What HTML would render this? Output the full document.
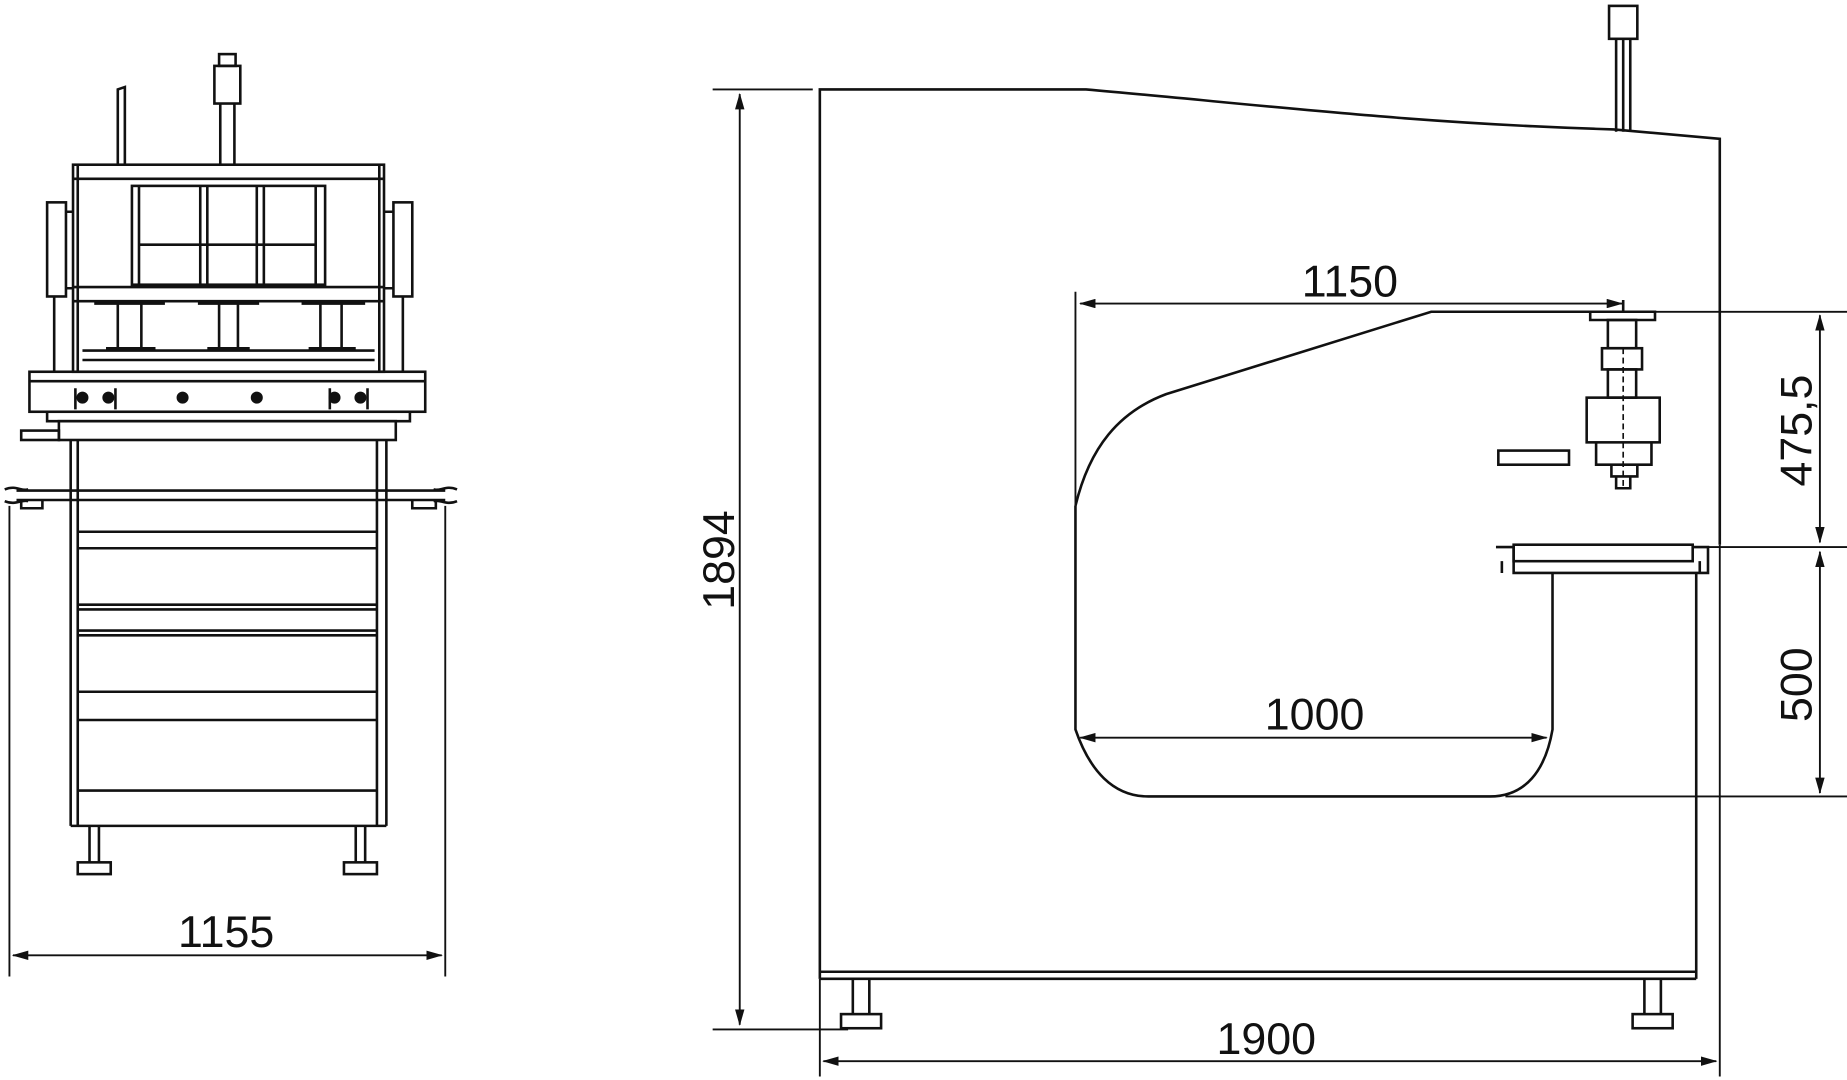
<!DOCTYPE html>
<html><head><style>html,body{margin:0;padding:0;background:#fff}svg{display:block}</style></head><body>
<svg width="1847" height="1080" viewBox="0 0 1568 918" preserveAspectRatio="none" xmlns="http://www.w3.org/2000/svg" font-family="Liberation Sans, sans-serif">
<defs><marker id="a" markerWidth="14" markerHeight="8" refX="13" refY="4" orient="auto-start-reverse" markerUnits="userSpaceOnUse"><path d="M0,0 L14,4 L0,8 z" fill="#111"/></marker></defs>
<g fill="none" stroke="#111" stroke-width="2.2">
<path d="M696,832 V76 H922 C1080,90 1200,105 1370,110 L1460,118 V463"/>
<path d="M696,826 H1440 M696,832 H1440 M1440,487 V832"/>
<path d="M913,430 C925,380 950,350 990,335 L1215,265 H1380"/>
<path d="M913,430 V620 C925,655 945,677 975,677 H1265 C1295,677 1312,655 1318,620 V487"/>
<rect x="1285" y="463" width="152" height="14"/>
<path d="M1270,465 H1285 V487 H1450 V465 H1437 M1275,477 V487 M1443,477 V487"/>
<rect x="1272" y="383" width="60" height="12"/>
<path d="M1350,265 H1405 V272 H1350 Z M1378,255 V265"/>
<rect x="1365" y="272" width="24" height="24"/><rect x="1360" y="296" width="34" height="18"/><rect x="1365" y="314" width="24" height="24"/>
<rect x="1347" y="338" width="62" height="38"/><path d="M1355,376 V395 H1402 V376 M1368,395 V405 H1390 V395 M1372,405 V415 H1384 V405"/>
<path d="M1378,296 V415" stroke-dasharray="5,3" stroke-width="1.4"/>
<rect x="1366" y="5" width="24" height="28"/><path d="M1372,33 V112 M1384,33 V112 M1378,33 V112"/>
<path d="M724,832 V862 M738,832 V862 M1396,832 V862 M1410,832 V862"/>
<rect x="714" y="862" width="34" height="12"/><rect x="1386" y="862" width="34" height="12"/>
<g stroke-width="1.6">
<path d="M605,76 H690 M605,875 H720 M696,832 V915 M1460,463 V915 M913,248 V430 M1378,265 H1568 M1440,465 H1568 M1278,677 H1568"/>
<path d="M628,80 V871" marker-start="url(#a)" marker-end="url(#a)"/>
<path d="M699,902 H1457" marker-start="url(#a)" marker-end="url(#a)"/>
<path d="M917,258 H1377" marker-start="url(#a)" marker-end="url(#a)"/>
<path d="M917,627 H1313" marker-start="url(#a)" marker-end="url(#a)"/>
<path d="M1545,268 V461" marker-start="url(#a)" marker-end="url(#a)"/>
<path d="M1545,469 V674" marker-start="url(#a)" marker-end="url(#a)"/>
<path d="M8,430 V830 M378,430 V830"/>
<path d="M11,812 H375" marker-start="url(#a)" marker-end="url(#a)"/>
</g>
<rect x="62" y="140" width="264" height="176"/>
<path d="M66,140 V316 M322,140 V316 M62,152 H326 M62,244 H326 M62,256 H326"/>
<rect x="112" y="158" width="164" height="84"/>
<path d="M118,158 V242 M170,158 V242 M176,158 V242 M218,158 V242 M224,158 V242 M268,158 V242 M118,208 H268"/>
<path d="M100,140 V76 L106,74 V140"/>
<rect x="182" y="56" width="22" height="32"/><rect x="186" y="46" width="14" height="10"/><path d="M187,88 V140 M199,88 V140"/>
<rect x="40" y="172" width="16" height="80"/><rect x="334" y="172" width="16" height="80"/>
<path d="M56,180 H62 M56,245 H62 M326,180 H334 M326,245 H334 M46,252 V316 M342,252 V316"/>
<path d="M80,258 H140 M168,258 H220 M256,258 H310 M100,258 V296 M120,258 V296 M186,258 V296 M202,258 V296 M272,258 V296 M290,258 V296 M90,296 H132 M176,296 H212 M262,296 H302 M70,298 H318 M70,306 H318"/>
<rect x="25" y="316" width="336" height="34"/>
<path d="M25,324 H361 M40,350 V358 H348 V350"/>
<g fill="#111"><circle cx="70" cy="338" r="4"/><circle cx="92" cy="338" r="4"/><circle cx="155" cy="338" r="4"/><circle cx="218" cy="338" r="4"/><circle cx="284" cy="338" r="4"/><circle cx="306" cy="338" r="4"/></g>
<path d="M64,330 V348 M98,330 V348 M280,330 V348 M312,330 V348"/>
<rect x="50" y="358" width="286" height="16"/><rect x="18" y="366" width="32" height="8"/>
<path d="M60,374 V702 M66,374 V702 M320,374 V702 M328,374 V702"/>
<path d="M14,417 H378 M14,425 H378 M4,416 C14,412 18,418 24,416 M4,426 C14,430 18,424 24,426 M388,416 C378,412 374,418 368,416 M388,426 C378,430 374,424 368,426"/>
<path d="M18,425 V432 H36 V425 M350,425 V432 H370 V425"/>
<path d="M66,452 H320 M66,466 H320 M66,514 H320 M66,518 H320 M66,536 H320 M66,540 H320 M66,588 H320 M66,612 H320 M66,672 H320 M60,702 H328"/>
<path d="M76,702 V733 M84,702 V733 M302,702 V733 M310,702 V733"/>
<rect x="66" y="733" width="28" height="10"/><rect x="292" y="733" width="28" height="10"/>
</g>
<g fill="#111" font-size="38">
<text x="1146" y="252" text-anchor="middle">1150</text>
<text x="1116" y="620" text-anchor="middle">1000</text>
<text x="1075" y="896" text-anchor="middle">1900</text>
<text x="192" y="805" text-anchor="middle">1155</text>
<text transform="translate(623,476) rotate(-90)" text-anchor="middle">1894</text>
<text transform="translate(1538,366) rotate(-90)" text-anchor="middle">475,5</text>
<text transform="translate(1538,582) rotate(-90)" text-anchor="middle">500</text>
</g>
</svg>
</body></html>
